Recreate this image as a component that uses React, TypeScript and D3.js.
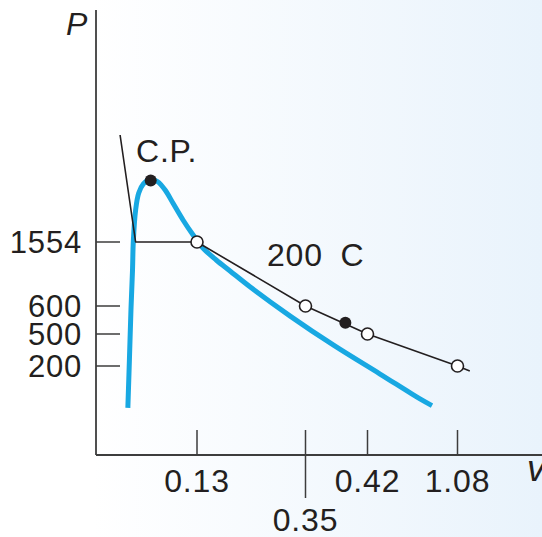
import React from "react";
import * as d3 from "d3";

// Axis tick values (schematic, non-linear axes)
const vTicks = [0.13, 0.35, 0.42, 1.08];
const vTickLabels = ["0.13", "0.35", "0.42", "1.08"];
const pTicks = [1554, 600, 500, 200];
const pTickLabels = ["1554", "600", "500", "200"];

// Saturation dome (blue curve)
const domeV = [0.041, 0.043, 0.045, 0.047, 0.048, 0.051, 0.055, 0.061, 0.07, 0.079, 0.089, 0.099, 0.112, 0.125, 0.142, 0.169, 0.197, 0.238, 0.319, 0.383, 0.512, 0.805, 0.893];
const domeP = [106, 256, 586, 1137, 1554, 2031, 2284, 2419, 2493, 2456, 2329, 2135, 1882, 1658, 1465, 1286, 1122, 883, 564, 388, 182, 126, 111];

// 200 C isotherm (black line)
const isoV = [0.031, 0.051, 0.13, 0.35, 0.42, 1.08, 1.17];
const isoP = [3149, 1554, 1554, 600, 500, 200, 189];

// State points
const openV = [0.13, 0.35, 0.42, 1.08];
const openP = [1554, 600, 500, 200];
const filledV = [0.0704, 0.395];
const filledP = [2471, 540];

const W = 542;
const H = 537;
const FONT = "'Liberation Sans', Arial, Helvetica, sans-serif";
const INK = "#231f20";
const AXIS = "#3d3d3d";
const BLUE = "#18a8e2";

export default function App() {
  const x = d3
    .scaleLinear()
    .domain([0, 0.13, 0.35, 0.42, 1.08])
    .range([96, 197, 305.5, 367.5, 457.5]);
  const y = d3
    .scaleLinear()
    .domain([0, 200, 500, 600, 1554])
    .range([455, 366, 334, 306, 242]);

  const dome = domeV.map((v, i) => [v, domeP[i]] as [number, number]);
  const iso = isoV.map((v, i) => [v, isoP[i]] as [number, number]);

  const domeLine = d3
    .line<[number, number]>()
    .x((d) => x(d[0]))
    .y((d) => y(d[1]))
    .curve(d3.curveCatmullRom.alpha(0.5));
  const isoLine = d3
    .line<[number, number]>()
    .x((d) => x(d[0]))
    .y((d) => y(d[1]));

  const x0 = x(0);
  const y0 = y(0);
  const LS = 0.8;

  return (
    <svg
      width={W}
      height={H}
      viewBox={`0 0 ${W} ${H}`}
      style={{ position: "absolute", left: 0, top: 0, display: "block" }}
      fontFamily={FONT}
    >
      <defs>
        <linearGradient id="bg" x1="0" y1="0" x2="1" y2="0">
          <stop offset="0" stopColor="#ffffff" />
          <stop offset="0.17" stopColor="#ffffff" />
          <stop offset="1" stopColor="#e9f3fc" />
        </linearGradient>
      </defs>
      <rect x={0} y={0} width={W} height={H} fill="url(#bg)" />

      {/* axes */}
      <line x1={x0} y1={10} x2={x0} y2={y0} stroke={AXIS} strokeWidth={1.8} />
      <line x1={x0} y1={y0} x2={W} y2={y0} stroke={AXIS} strokeWidth={1.8} />

      {/* y ticks */}
      {pTicks.map((p, i) => (
        <g key={"py" + i}>
          <line x1={x0} x2={x0 + 24} y1={y(p)} y2={y(p)} stroke={AXIS} strokeWidth={1.5} />
          <text
            x={82}
            y={y(p)}
            dy="0.36em"
            textAnchor="end"
            fontSize={31}
            letterSpacing={LS}
            fill={INK}
          >
            {pTickLabels[i]}
          </text>
        </g>
      ))}

      {/* x ticks */}
      {vTicks.map((v, i) => {
        const low = vTickLabels[i] === "0.35";
        return (
          <g key={"vx" + i}>
            <line
              x1={x(v)}
              x2={x(v)}
              y1={y0 - 25}
              y2={low ? y0 + 43 : y0}
              stroke={AXIS}
              strokeWidth={1.5}
            />
            <text
              x={x(v)}
              y={low ? 531 : 492}
              textAnchor="middle"
              fontSize={32}
              letterSpacing={LS}
              fill={INK}
            >
              {vTickLabels[i]}
            </text>
          </g>
        );
      })}

      {/* axis titles */}
      <text x={66} y={35} fontSize={32} fontStyle="italic" fill={INK}>
        P
      </text>
      <text x={527} y={481} fontSize={36} fontStyle="italic" fill={INK}>
        v
      </text>

      {/* saturation dome */}
      <path
        d={domeLine(dome) || ""}
        fill="none"
        stroke={BLUE}
        strokeWidth={5}
        strokeLinecap="butt"
      />

      {/* isotherm */}
      <path
        d={isoLine(iso) || ""}
        fill="none"
        stroke={INK}
        strokeWidth={1.6}
        strokeLinejoin="round"
      />

      {/* state points */}
      {openV.map((v, i) => (
        <circle
          key={"o" + i}
          cx={x(v)}
          cy={y(openP[i])}
          r={6}
          fill="#ffffff"
          stroke={INK}
          strokeWidth={1.6}
        />
      ))}
      {filledV.map((v, i) => (
        <circle key={"f" + i} cx={x(v)} cy={y(filledP[i])} r={6} fill={INK} />
      ))}

      {/* annotations */}
      <text x={136} y={162} fontSize={32} letterSpacing={LS} fill={INK}>
        C.P.
      </text>
      <text x={267} y={266} fontSize={32} letterSpacing={LS} fill={INK}>
        200<tspan dx={8}> C</tspan>
      </text>
    </svg>
  );
}
